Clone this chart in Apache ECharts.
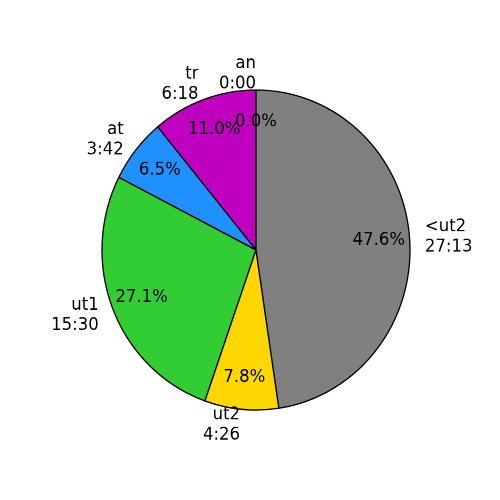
<!DOCTYPE html>
<html>
<head>
<meta charset="utf-8">
<script src="https://cdn.jsdelivr.net/npm/echarts@6/dist/echarts.min.js"></script>
<style>
  html, body { margin: 0; padding: 0; background: #fff; overflow: hidden; }
  /* reference pie is slightly taller than wide (no equal aspect) */
  #chart { width: 500px; height: 500px; transform: scaleY(1.039); transform-origin: 50% 250px; }
</style>
</head>
<body>
<div id="chart"></div>
<script>
var names = ["an", "tr", "at", "ut1", "ut2", "<ut2"];
var times = ["0:00", "6:18", "3:42", "15:30", "4:26", "27:13"];
var colors = ["#ff7f0e", "#bf00bf", "#1e90ff", "#32cd32", "#ffd700", "#808080"];

// mm:ss -> seconds
var seconds = times.map(function (t) {
  var p = t.split(":");
  return parseInt(p[0], 10) * 60 + parseInt(p[1], 10);
});
var total = seconds.reduce(function (a, b) { return a + b; }, 0);

// middle of each wedge, in seconds along the angle axis
var mids = [];
var acc = 0;
seconds.forEach(function (s) { mids.push(acc + s / 2); acc += s; });

var R = 154;
var center = [256, 250];
var font = "DejaVu Sans";

function onRight(v) {
  return Math.cos((90 + v / total * 360) * Math.PI / 180) > 1e-9;
}

var myChart = echarts.init(document.getElementById("chart"), null, { devicePixelRatio: 2 });
myChart.setOption({
  animation: false,
  polar: { center: center, radius: R * 1.1 },
  angleAxis: {
    type: "value", min: 0, max: total, startAngle: 90, clockwise: false,
    show: false
  },
  radiusAxis: { type: "value", min: 0, max: 1.1, show: false },
  series: [
    {
      type: "pie",
      center: center,
      radius: [0, R],
      startAngle: 90,
      clockwise: false,
      silent: true,
      data: names.map(function (n, i) {
        return { name: n, value: seconds[i], itemStyle: { color: colors[i] } };
      }),
      itemStyle: { borderColor: "#000", borderWidth: 1.3 },
      label: { show: false },
      labelLine: { show: false }
    },
    {
      // percentages at 0.8 R
      type: "scatter",
      coordinateSystem: "polar",
      clip: false,
      silent: true,
      z: 5,
      symbolSize: 0.01,
      itemStyle: { color: "#000", opacity: 1 },
      data: mids.map(function (m) { return [0.8, m]; }),
      label: {
        show: true,
        position: "inside",
        fontFamily: font,
        fontSize: 16.5,
        color: "#000",
        opacity: 1,
        formatter: function (p) {
          return (seconds[p.dataIndex] / total * 100).toFixed(1) + "%";
        }
      }
    },
    {
      // names and times at 1.1 R
      type: "scatter",
      coordinateSystem: "polar",
      clip: false,
      silent: true,
      z: 5,
      symbolSize: 0.01,
      itemStyle: { color: "#000", opacity: 1 },
      data: mids.map(function (m) {
        return {
          value: [1.1, m],
          label: { position: onRight(m) ? "right" : "left", align: onRight(m) ? "left" : "right" }
        };
      }),
      label: {
        show: true,
        distance: 0,
        fontFamily: font,
        fontSize: 16.5,
        lineHeight: 19.5,
        color: "#000",
        opacity: 1,
        formatter: function (p) { return names[p.dataIndex] + "\n" + times[p.dataIndex]; }
      }
    }
  ]
});
</script>
</body>
</html>
